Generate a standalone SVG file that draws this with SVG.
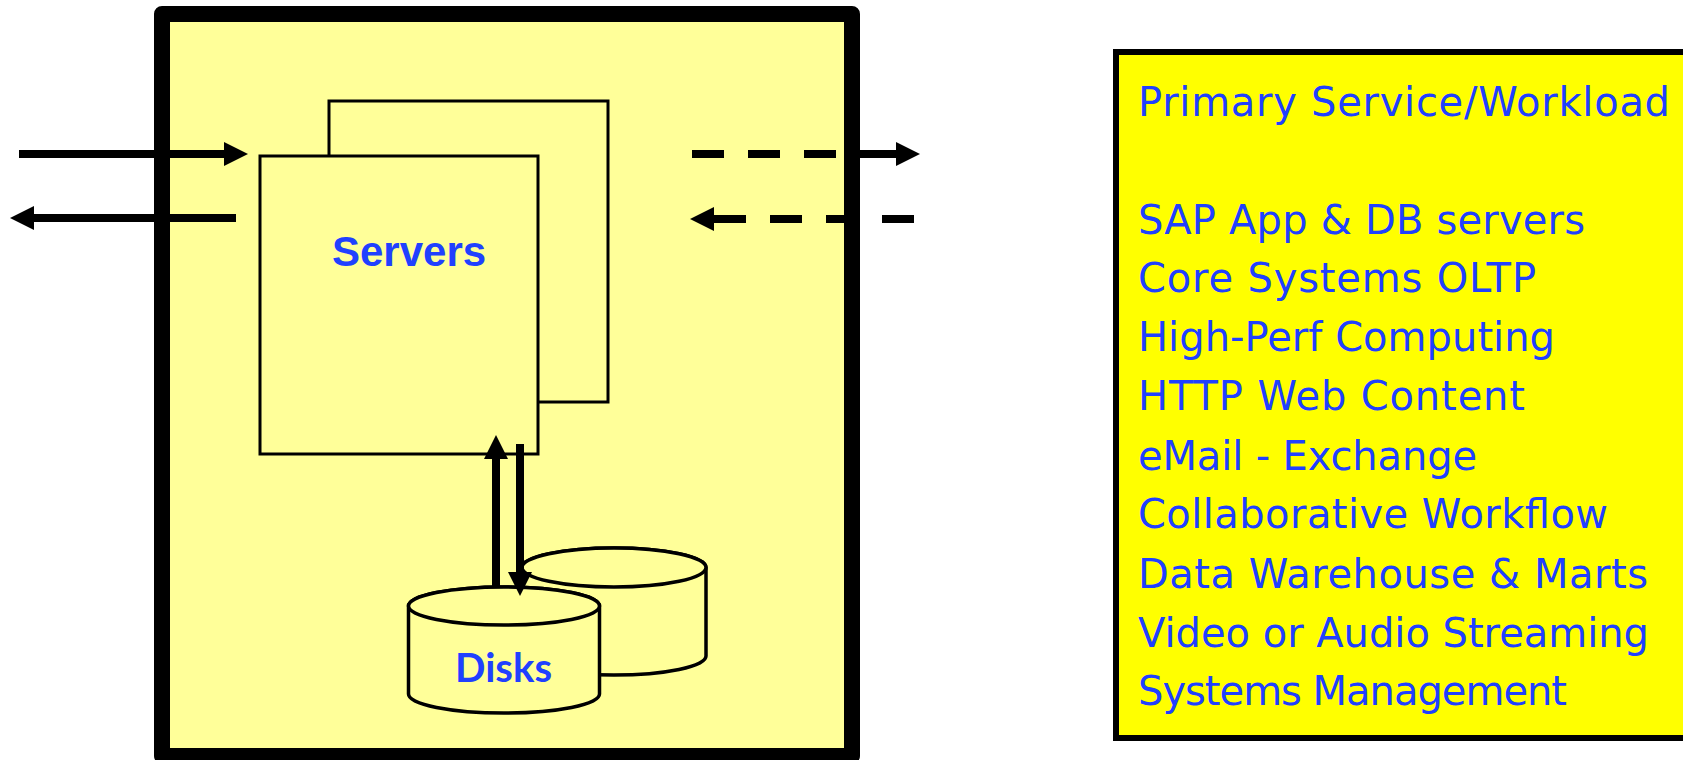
<svg xmlns="http://www.w3.org/2000/svg" width="1683" height="760" viewBox="0 0 1683 760">
  <style>
    .frame { fill: #FFFF99; stroke: #000; stroke-width: 16; stroke-linejoin: round; }
    .box { fill: #FFFF99; stroke: #000; stroke-width: 3; }
    .disk { fill: #FFFF99; stroke: #000; stroke-width: 3.5; }
    .label { fill: #2040FF; font-weight: bold; }
    .flow { stroke: #000; stroke-width: 8; fill: none; }
    .dash { stroke-dasharray: 32 24; }
    .list { fill: #2040FF; font-family: "DejaVu Sans", Verdana, sans-serif; font-size: 40px; }
  </style>
  <defs>
    <marker id="head" markerUnits="userSpaceOnUse" markerWidth="24" markerHeight="24" refX="0" refY="12" orient="auto" overflow="visible">
      <path d="M0,0 L24,12 L0,24 Z" fill="#000"/>
    </marker>
  </defs>

  <!-- system enclosure -->
  <g id="system">
    <rect class="frame" x="162" y="14" width="690" height="742"/>
  </g>

  <!-- stacked server boxes -->
  <g id="servers">
    <rect class="box" x="329" y="101" width="279" height="301"/>
    <rect class="box" x="260" y="156" width="278" height="298"/>
    <text class="label" x="332" y="266" font-family="'Liberation Sans', Arial, sans-serif" font-size="42">Servers</text>
  </g>

  <!-- stacked disk cylinders -->
  <g id="disks">
    <path class="disk" d="M522,567.5 L522,656 A92,19 0 0 0 706,656 L706,567.5 A92,19.5 0 0 0 522,567.5 Z"/>
    <ellipse class="disk" cx="614" cy="567.5" rx="92" ry="19.5"/>
    <path class="disk" d="M408.5,606 L408.5,694 A95.5,19 0 0 0 599.5,694 L599.5,606 A95.5,19 0 0 0 408.5,606 Z"/>
    <ellipse class="disk" cx="504" cy="606" rx="95.5" ry="19"/>
    <text class="label" x="455" y="682" font-family="Lato, 'Noto Sans', sans-serif" font-size="40" textLength="97" lengthAdjust="spacingAndGlyphs">Disks</text>
  </g>

  <!-- data flows -->
  <g id="connectors">
    <line class="flow" x1="19" y1="154" x2="224" y2="154" marker-end="url(#head)"/>
    <line class="flow" x1="236" y1="218" x2="34" y2="218" marker-end="url(#head)"/>
    <line class="flow" x1="692" y1="154" x2="896" y2="154" stroke-dasharray="32 24 32 24 32 24 40" marker-end="url(#head)"/>
    <line class="flow dash" x1="914" y1="219" x2="714" y2="219" marker-end="url(#head)"/>
    <line class="flow" x1="496" y1="586" x2="496" y2="459" marker-end="url(#head)"/>
    <line class="flow" x1="520" y1="444" x2="520" y2="572" marker-end="url(#head)"/>
  </g>

  <!-- workload list -->
  <g id="workloads">
    <rect x="1116" y="52" width="600" height="686" fill="#FFFF00" stroke="#000" stroke-width="6"/>
    <text class="list" x="1138" y="116" textLength="532">Primary Service/Workload</text>
    <text class="list" x="1138" y="234" textLength="447">SAP App &amp; DB servers</text>
    <text class="list" x="1138" y="292" textLength="398">Core Systems OLTP</text>
    <text class="list" x="1138" y="351" textLength="417">High-Perf Computing</text>
    <text class="list" x="1138" y="410" textLength="387">HTTP Web Content</text>
    <text class="list" x="1138" y="470" textLength="339">eMail - Exchange</text>
    <text class="list" x="1138" y="528" textLength="470">Collaborative Workflow</text>
    <text class="list" x="1138" y="588" textLength="510">Data Warehouse &amp; Marts</text>
    <text class="list" x="1138" y="647" textLength="511">Video or Audio Streaming</text>
    <text class="list" x="1138" y="705" textLength="429">Systems Management</text>
  </g>
</svg>
